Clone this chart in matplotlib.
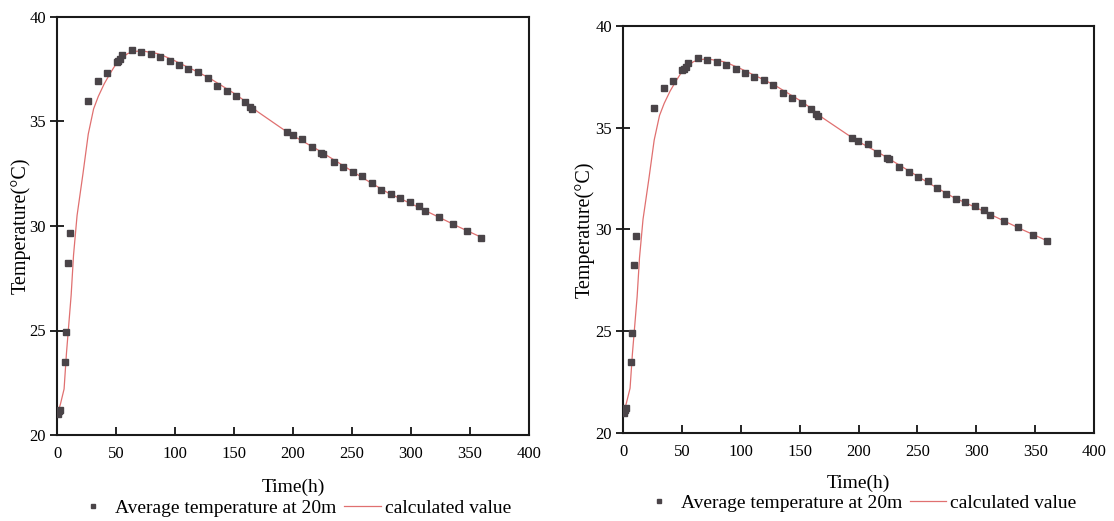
import matplotlib
matplotlib.use("Agg")
import matplotlib.pyplot as plt

plt.rcParams['font.family'] = ['Liberation Serif', 'DejaVu Serif']

# measured data (average temperature at 20 m)
meas_t = [0.5, 1.5, 2.5, 6.6, 7.5, 9.3, 10.7, 26.5, 34.4, 42.6, 50.5, 51.9, 53.3, 55.5,
          63.4, 71.6, 79.5, 87.4, 95.6, 103.4, 111.4, 119.5, 127.7, 135.6, 143.8, 151.6,
          159.6, 163.8, 165.5, 194.8, 199.9, 207.8, 216.0, 223.8, 225.8, 234.8, 242.7,
          250.6, 258.8, 266.6, 274.6, 282.7, 290.6, 298.8, 306.7, 311.8, 323.6, 335.7,
          347.8, 359.7]
meas_T = [21.0, 21.15, 21.22, 23.5, 24.93, 28.25, 29.67, 35.98, 36.94, 37.3, 37.85, 37.9,
          37.97, 38.17, 38.42, 38.34, 38.24, 38.1, 37.9, 37.69, 37.51, 37.35, 37.1, 36.71,
          36.46, 36.2, 35.93, 35.68, 35.6, 34.5, 34.34, 34.18, 33.78, 33.51, 33.44, 33.08,
          32.84, 32.6, 32.38, 32.04, 31.74, 31.52, 31.34, 31.15, 30.96, 30.73, 30.43, 30.1,
          29.75, 29.44]

# calculated curve
calc_t = [0, 1.5, 3, 6, 8, 10, 12, 14, 17, 22, 26.5, 31, 35, 40, 45, 50, 55, 60, 65, 70,
          75, 80, 85, 90, 100, 110, 120, 130, 140, 150, 160, 170, 180, 190, 200, 220, 240,
          260, 280, 300, 320, 340, 360]
calc_T = [21.0, 21.2, 21.5, 22.2, 23.9, 25.3, 26.7, 28.6, 30.5, 32.5, 34.4, 35.6, 36.2,
          36.8, 37.3, 37.75, 38.05, 38.25, 38.35, 38.37, 38.35, 38.3, 38.25, 38.15, 37.9,
          37.62, 37.35, 37.05, 36.7, 36.35, 35.95, 35.47, 35.08, 34.69, 34.32, 33.68, 32.98,
          32.27, 31.6, 31.07, 30.52, 29.97, 29.45]

xticks = [0, 50, 100, 150, 200, 250, 300, 350, 400]
yticks = [20, 25, 30, 35, 40]

W, H = 1114, 521
fig = plt.figure(figsize=(W / 100, H / 100), dpi=100)

# (left, right, top, bottom) in pixels, ylabel x, xlabel y, legend y (pixels)
panels = [
    (57, 529, 17, 435, 21, 487, 508),
    (623, 1094, 26, 433, 585, 483, 503),
]

for (x0, x1, y0, y1, ylx, xly, lgy) in panels:
    w, h = x1 - x0, y1 - y0
    ax = fig.add_axes([x0 / W, (H - y1) / H, w / W, h / H])
    ax.plot(calc_t, calc_T, color='#e07070', lw=0.9, label='calculated value', zorder=2)
    ax.plot(meas_t, meas_T, ls='none', marker='s', ms=3.8, color='#4a4448',
            label='Average temperature at 20m', zorder=3)
    ax.set_xlim(0, 400)
    ax.set_ylim(20, 40)
    ax.set_xticks(xticks)
    ax.set_yticks(yticks)
    for s in ax.spines.values():
        s.set_linewidth(1.5)
        s.set_color('#1a1a1a')
    ax.tick_params(axis='x', direction='in', length=6, width=1.2, pad=8,
                   labelsize=12, top=False)
    ax.tick_params(axis='y', direction='inout', length=10, width=1.2, pad=3,
                   labelsize=12, right=False)
    ax.set_xlabel('Time(h)', fontsize=14)
    ax.xaxis.label.set_va('center')
    ax.xaxis.set_label_coords(0.5, (y1 - xly) / h)
    ax.set_ylabel('Temperature(°C)', fontsize=14.5)
    ax.yaxis.label.set_va('center')
    ax.yaxis.set_label_coords((ylx - x0) / w, 0.5)
    hd, lb = ax.get_legend_handles_labels()
    ax.legend([hd[1], hd[0]], [lb[1], lb[0]], loc='center',
              bbox_to_anchor=(0.5, (y1 - lgy) / h),
              ncol=2, frameon=False, fontsize=14, handlelength=1.86, handletextpad=0.2,
              columnspacing=0.4, markerscale=0.8, borderpad=0, borderaxespad=0)

fig.savefig('out.png', dpi=100)
